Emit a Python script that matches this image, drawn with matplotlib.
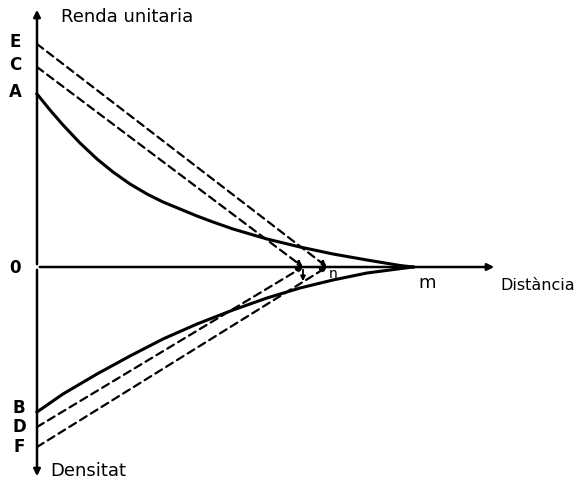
import matplotlib
matplotlib.use("Agg")
import matplotlib.pyplot as plt

# upper curve: unit rent vs distance (A -> m)
rent_x = [0, 1.3, 2.6, 4.3, 6.0, 7.6, 9.3, 11.0, 12.6, 14.3, 16.0, 17.6, 19.6,
          23.0, 26.3, 29.6, 33.0, 36.3, 37.6]
rent_y = [17.3, 15.7, 14.2, 12.4, 10.8, 9.5, 8.3, 7.3, 6.5, 5.8, 5.1, 4.5, 3.8,
          2.8, 2.0, 1.3, 0.7, 0.15, 0.0]

# lower curve: density vs distance (B -> m), drawn downward
dens_x = [0, 2.6, 6.0, 9.3, 12.6, 16.0, 19.6, 23.0, 26.3, 29.6, 33.0, 37.6]
dens_y = [-14.5, -12.7, -10.7, -8.9, -7.2, -5.7, -4.3, -3.1, -2.1, -1.3, -0.6, 0.0]

# dashed straight lines: (label, start y, end x)
upper_lines = [("E", 22.3, 29.0), ("C", 20.0, 26.6)]
lower_lines = [("D", -16.0, 26.6), ("F", -18.0, 29.0)]
point_A, point_B = 17.3, -14.5
n_x, m_x = 29.0, 37.6

fig = plt.figure(figsize=(5.75, 4.85), dpi=100)
ax = fig.add_axes([0, 0, 1, 1])
ax.set_xlim(-3.7, 53.8)
ax.set_ylim(-21.7, 26.8)
ax.axis("off")

arrow = dict(arrowstyle="-|>", color="black", lw=1.8, mutation_scale=10)
# axes
ax.annotate("", xy=(0, 26.0), xytext=(0, 0), arrowprops=arrow)
ax.annotate("", xy=(0, -21.2), xytext=(0, 0), arrowprops=arrow)
ax.annotate("", xy=(46.0, 0), xytext=(0, 0), arrowprops=arrow)

# curves
ax.plot(rent_x, rent_y, color="black", lw=2.2, solid_joinstyle="round")
ax.plot(dens_x, dens_y, color="black", lw=2.2, solid_joinstyle="round")

dash = dict(arrowstyle="-|>", color="black", lw=1.6, linestyle=(0, (3.5, 2.2)),
            mutation_scale=8, shrinkA=0, shrinkB=0)
for lab, y0, x1 in upper_lines + lower_lines:
    ax.annotate("", xy=(x1, 0), xytext=(0, y0), arrowprops=dash)

# small arrow down at the intersection
ax.annotate("", xy=(26.6, -1.7), xytext=(26.6, 0),
            arrowprops=dict(arrowstyle="-|>", color="black", lw=1.3, mutation_scale=7))

fs = 12
lbl = dict(fontsize=fs, fontweight="bold", ha="center", va="center")
for lab, y0, _ in upper_lines:
    ax.text(-2.2, y0 + 0.3, lab, **lbl)
ax.text(-2.2, point_A + 0.3, "A", **lbl)
ax.text(-2.2, 0, "0", **lbl)
ax.text(-1.8, point_B + 0.5, "B", **lbl)
for lab, y0, _ in lower_lines:
    ax.text(-1.8, y0 + 0.1, lab, **lbl)

ax.text(n_x + 0.6, -0.6, "n", fontsize=10, ha="center", va="center")
ax.text(m_x + 1.4, -1.5, "m", fontsize=13, ha="center", va="center")
ax.text(2.4, 25.1, "Renda unitaria", fontsize=13, ha="left", va="center")
ax.text(46.3, -1.7, "Distància", fontsize=11.5, ha="left", va="center")
ax.text(1.3, -20.3, "Densitat", fontsize=13, ha="left", va="center")

fig.savefig("out.png", dpi=100)
